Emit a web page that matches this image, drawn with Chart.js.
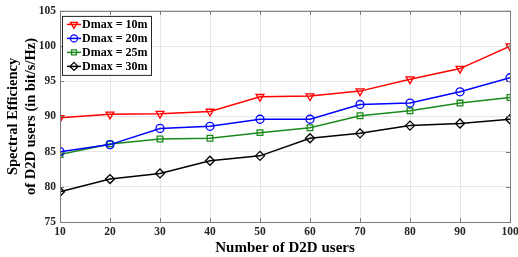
<!DOCTYPE html>
<html>
<head>
<meta charset="utf-8">
<script src="https://cdn.jsdelivr.net/npm/chart.js@4"></script>
<style>
  html, body { margin: 0; padding: 0; background: #fff; }
  #wrap { width: 518px; height: 257px; }
</style>
</head>
<body>
<div id="wrap"><canvas id="ch" width="518" height="257"></canvas></div>
<script>
// number of D2D users on x axis
const users = [10, 20, 30, 40, 50, 60, 70, 80, 90, 100];
const se10 = [89.8, 90.3, 90.4, 90.7, 92.8, 92.9, 93.6, 95.3, 96.8, 100.0];
const se20 = [85.0, 86.0, 88.3, 88.6, 89.6, 89.6, 91.7, 91.9, 93.5, 95.5];
const se25 = [84.6, 86.1, 86.8, 86.9, 87.7, 88.4, 90.1, 90.8, 91.9, 92.7];
const se30 = [79.3, 81.1, 81.9, 83.7, 84.4, 86.9, 87.6, 88.7, 89.0, 89.6];
const seriesNames = ['Dmax = 10m', 'Dmax = 20m', 'Dmax = 25m', 'Dmax = 30m'];

const FONT = '"Liberation Serif", "Times New Roman", serif';
const pts = arr => arr.map((v, i) => ({ x: users[i], y: v }));

function ds(label, data, color, style, rot, radius) {
  return {
    label, data: pts(data), borderColor: color, backgroundColor: 'rgba(0,0,0,0)',
    borderWidth: 1.5, pointStyle: style, rotation: rot, pointRadius: radius,
    pointBorderWidth: 1.3, pointBorderColor: color, pointBackgroundColor: 'rgba(0,0,0,0)',
    tension: 0
  };
}

// box + inward ticks (matlab style) and legend inside the plot
const boxLegend = {
  id: 'boxLegend',
  afterDraw(chart) {
    const { ctx, chartArea: a, scales } = chart;
    ctx.save();
    ctx.strokeStyle = '#7a7a7a';
    ctx.lineWidth = 1;
    ctx.strokeRect(a.left + 0.5, a.top + 0.5, a.right - a.left, a.bottom - a.top);
    ctx.beginPath();
    scales.x.ticks.forEach(t => {
      const px = Math.round(scales.x.getPixelForValue(t.value)) + 0.5;
      ctx.moveTo(px, a.bottom); ctx.lineTo(px, a.bottom - 4);
      ctx.moveTo(px, a.top); ctx.lineTo(px, a.top + 4);
    });
    scales.y.ticks.forEach(t => {
      const py = Math.round(scales.y.getPixelForValue(t.value)) + 0.5;
      ctx.moveTo(a.left, py); ctx.lineTo(a.left + 4, py);
      ctx.moveTo(a.right, py); ctx.lineTo(a.right - 4, py);
    });
    ctx.stroke();

    const x0 = a.left + 2, y0 = a.top + 5, w = 89, h = 59;
    ctx.fillStyle = '#fff';
    ctx.fillRect(x0, y0, w, h);
    ctx.strokeStyle = '#262626';
    ctx.strokeRect(x0 + 0.5, y0 + 0.5, w, h);
    ctx.font = 'bold 12px ' + FONT;
    ctx.textBaseline = 'middle';
    chart.data.datasets.forEach((d, i) => {
      const y = y0 + 8.5 + i * 14;
      ctx.strokeStyle = d.borderColor;
      ctx.lineWidth = 1.5;
      ctx.beginPath();
      ctx.moveTo(x0 + 5, y);
      ctx.lineTo(x0 + 19, y);
      ctx.stroke();
      ctx.lineWidth = d.pointBorderWidth;
      ctx.fillStyle = 'rgba(0,0,0,0)';
      Chart.helpers.drawPoint(ctx, {
        pointStyle: d.pointStyle, rotation: d.rotation, radius: d.pointRadius - 0.5, borderWidth: d.pointBorderWidth
      }, x0 + 12, y);
      ctx.fillStyle = '#000';
      ctx.fillText(d.label, x0 + 20, y + 0.5);
    });
    ctx.restore();
  }
};

new Chart(document.getElementById('ch'), {
  type: 'line',
  data: {
    datasets: [
      ds(seriesNames[0], se10, '#ff0000', 'triangle', 180, 4.5),
      ds(seriesNames[1], se20, '#0000ff', 'circle', 0, 4),
      ds(seriesNames[2], se25, '#1a8a1a', 'rect', 0, 4),
      ds(seriesNames[3], se30, '#000000', 'rectRot', 0, 4.5)
    ]
  },
  options: {
    responsive: false,
    animation: false,
    layout: { padding: { top: 4, right: 8, left: 1, bottom: 0 } },
    plugins: { legend: { display: false }, tooltip: { enabled: false } },
    scales: {
      x: {
        type: 'linear', min: 10, max: 100,
        ticks: { stepSize: 10, color: '#262626', font: { family: FONT, weight: 'bold', size: 11.5 }, padding: 3 },
        grid: { color: '#e6e6e6', drawTicks: false },
        border: { display: false },
        title: { display: true, text: 'Number of D2D users', color: '#000', font: { family: FONT, weight: 'bold', size: 15 }, padding: { top: 0, bottom: 0 } },
        afterFit: s => { s.height = 35; s.paddingRight = 8; s.paddingLeft = 0; }
      },
      y: {
        min: 75, max: 105,
        ticks: { stepSize: 5, color: '#262626', font: { family: FONT, weight: 'bold', size: 11.5 }, padding: 4 },
        grid: { color: '#e6e6e6', drawTicks: false },
        border: { display: false },
        title: { display: true, text: ['Spectral Efficiency', 'of D2D users (in bit/s/Hz)'], color: '#000', font: { family: FONT, weight: 'bold', size: 14.5, lineHeight: 1.2 }, padding: { top: 4, bottom: 2 } },
        afterFit: s => { s.width = 59; }
      }
    }
  },
  plugins: [boxLegend]
});
</script>
</body>
</html>
